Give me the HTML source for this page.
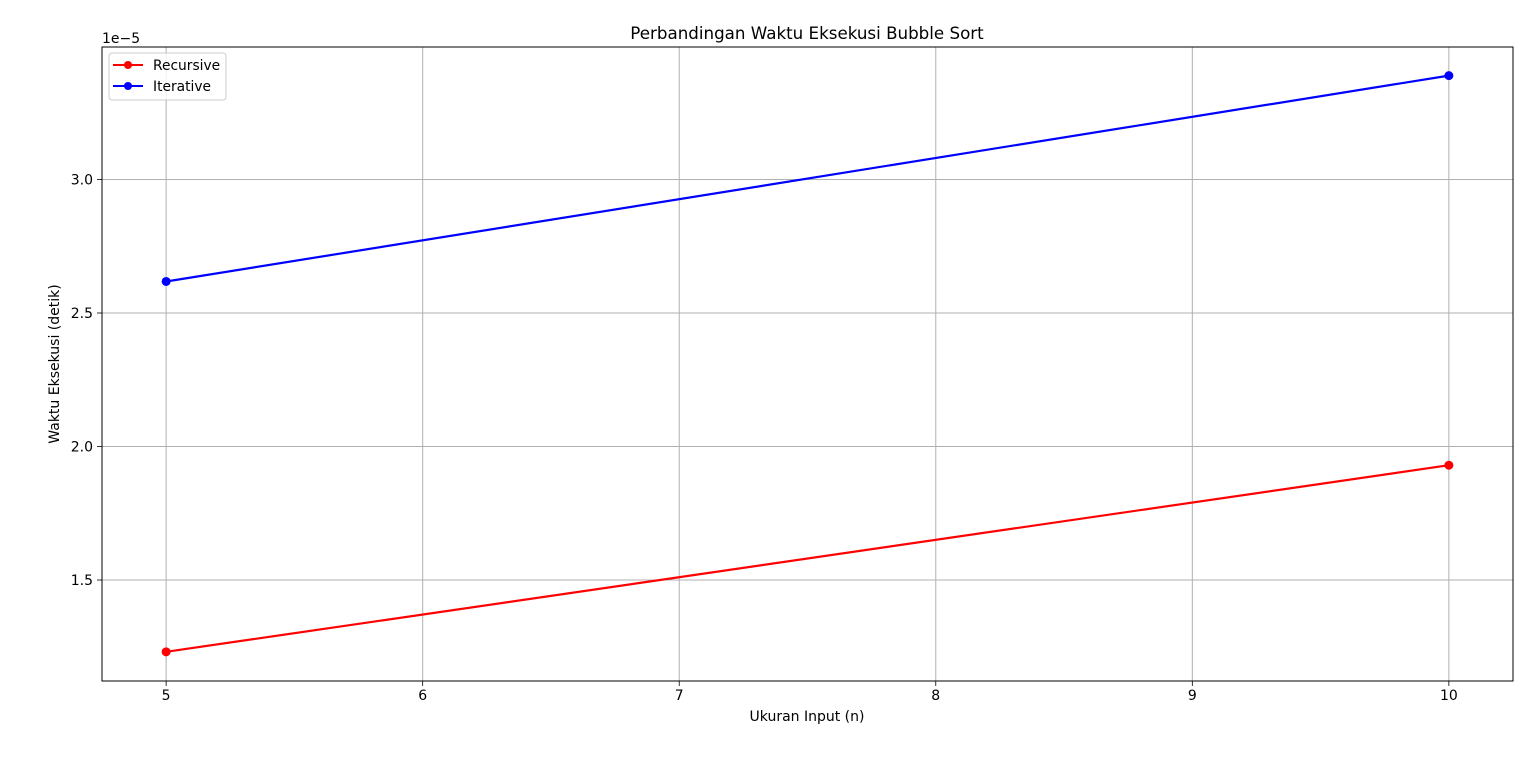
<!DOCTYPE html>
<html><head><meta charset="utf-8">
<style>
html,body{margin:0;padding:0;background:#fff;}
svg text{font-family:"DejaVu Sans","Liberation Sans",sans-serif;fill:#000;}
</style></head>
<body>
<svg id="chart" width="1536" height="754" xmlns="http://www.w3.org/2000/svg">
<rect width="1536" height="754" fill="#fff"/>
<g id="grid"></g>
<g id="ticks"></g>
<g id="series"></g>
<rect x="102" y="47" width="1411" height="634" fill="none" stroke="#000" stroke-width="1"/>
<text x="807" y="39" font-size="16.7" text-anchor="middle">Perbandingan Waktu Eksekusi Bubble Sort</text>
<text x="807" y="721" font-size="14" text-anchor="middle">Ukuran Input (n)</text>
<text x="0" y="0" font-size="14" text-anchor="middle" transform="translate(59,364) rotate(-90)">Waktu Eksekusi (detik)</text>
<text x="102" y="43" font-size="14">1e−5</text>
<g>
<rect x="109" y="53" width="117" height="47" rx="3" fill="#fff" fill-opacity="0.8" stroke="#ccc"/>
<line x1="113" y1="65" x2="143" y2="65" stroke="#ff0000" stroke-width="2"/>
<circle cx="128" cy="65" r="4" fill="#ff0000"/>
<text x="153" y="70" font-size="13.8">Recursive</text>
<line x1="113" y1="86" x2="143" y2="86" stroke="#0000ff" stroke-width="2"/>
<circle cx="128" cy="86" r="4" fill="#0000ff"/>
<text x="153" y="91" font-size="13.8">Iterative</text>
</g>
</svg>
<script>
const xCategories = [5, 10];
const recursiveValues = [1.231, 1.930];
const iterativeValues = [2.618, 3.389];
const xTickLabels = ["5","6","7","8","9","10"];
const yTickLabels = ["1.5","2.0","2.5","3.0"];

const NS = "http://www.w3.org/2000/svg";
const L = 102, R = 1513, T = 47, B = 681;
const xMin = 4.75, xMax = 10.25;
const yMin = 1.1218, yMax = 3.4962;
function xs(v){ return L + (v - xMin) / (xMax - xMin) * (R - L); }
function ys(v){ return B - (v - yMin) / (yMax - yMin) * (B - T); }
function mk(tag, attrs, parent){
  const e = document.createElementNS(NS, tag);
  for (const k in attrs) e.setAttribute(k, attrs[k]);
  parent.appendChild(e);
  return e;
}
const grid = document.getElementById("grid");
const ticks = document.getElementById("ticks");
const series = document.getElementById("series");

xTickLabels.forEach(function(lbl){
  const x = xs(parseFloat(lbl));
  const g = mk("line", {x1:x, x2:x, y1:T, y2:B, stroke:"#b0b0b0", "stroke-width":1}, grid);
  
  
  const t = mk("line", {x1:x, x2:x, y1:B, y2:B+5, stroke:"#000", "stroke-width":0.8}, ticks);
  
  
  const tx = mk("text", {x:x, y:B+19, "font-size":14, "text-anchor":"middle"}, ticks);
  tx.textContent = lbl;
  
  
});
yTickLabels.forEach(function(lbl){
  const y = ys(parseFloat(lbl));
  const g = mk("line", {x1:L, x2:R, y1:y, y2:y, stroke:"#b0b0b0", "stroke-width":1}, grid);
  
  
  const t = mk("line", {x1:L-5, x2:L, y1:y, y2:y, stroke:"#000", "stroke-width":0.8}, ticks);
  
  
  const tx = mk("text", {x:L-9, y:y+5, "font-size":14, "text-anchor":"end"}, ticks);
  tx.textContent = lbl;
  
  
});
function drawSeries(vals, color, name){
  const pts = xCategories.map(function(c,i){ return xs(c)+","+ys(vals[i]); }).join(" ");
  const pl = mk("polyline", {points:pts, fill:"none", stroke:color, "stroke-width":2.2}, series);
  
  
  xCategories.forEach(function(c,i){
    const p = mk("circle", {cx:xs(c), cy:ys(vals[i]), r:4.5, fill:color}, series);
    
    
  });
}
drawSeries(recursiveValues, "#ff0000", "recursive");
drawSeries(iterativeValues, "#0000ff", "iterative");
</script>
</body></html>
